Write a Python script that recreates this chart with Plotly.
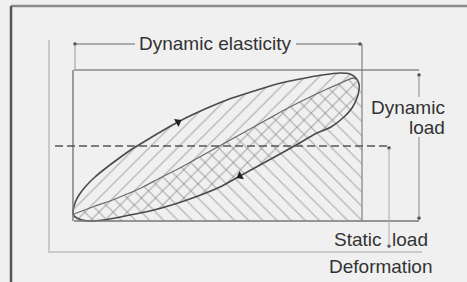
import plotly.graph_objects as go

# ---- data (deformation, load) in diagram units, origin at axes corner ----
loading_x = [24, 26, 30, 37, 46, 57, 69, 83, 98, 113, 129, 145, 163, 183, 205, 228, 251, 273, 291, 301, 307, 310, 310]
loading_y = [40, 49, 57, 66, 75, 84, 93, 103, 112, 121, 130, 138, 146, 154, 161, 168, 173, 177, 179, 178, 174, 168, 162]
unloading_x = [310, 308, 303, 295, 282, 266, 249, 231, 211, 191, 171, 149, 126, 101, 76, 54, 39, 30, 25, 24]
unloading_y = [162, 154, 144, 135, 125, 118, 108, 98, 87, 76, 65, 56, 48, 41, 36, 32, 31, 33, 36, 40]
inner_x = [25, 33, 46, 61, 78, 94, 111, 129, 147, 165, 183, 201, 219, 239, 259, 278, 294, 304, 309]
inner_y = [38, 41, 46, 51, 58, 65, 74, 83, 93, 103, 113, 123, 133, 144, 154, 163, 170, 174, 172]

defl_min, defl_max = 25, 313          # dynamic elasticity span
dyn_load_min, dyn_load_max = 31, 182  # dynamic load span
static_load = 106                     # static load level

labels = ["Dynamic elasticity", "Dynamic", "load", "Static  load", "Deformation"]

INK = "#333333"
FONT = dict(family="Liberation Sans, Arial, sans-serif", size=19, color=INK)

fig = go.Figure()

# region under the inner (unloading) curve -> "\" hatch
bx = inner_x + [defl_max, defl_max, defl_min, defl_min]
by = inner_y + [160, dyn_load_min, dyn_load_min, inner_y[0]]
fig.add_trace(go.Scatter(
    x=bx, y=by, mode="lines", fill="toself",
    line=dict(width=0, color="rgba(0,0,0,0)"),
    fillcolor="rgba(0,0,0,0)",
    fillpattern=dict(shape="\\", fgcolor="#7a7a7a", bgcolor="rgba(0,0,0,0)", size=10, solidity=0.13, fillmode="overlay"),
    hoverinfo="skip", showlegend=False))

# hysteresis loop -> "/" hatch
lx = loading_x + unloading_x[1:]
ly = loading_y + unloading_y[1:]
fig.add_trace(go.Scatter(
    x=lx, y=ly, mode="lines", fill="toself",
    line=dict(width=1.6, color="#4a4a4a", shape="spline", smoothing=0.6),
    fillcolor="rgba(0,0,0,0)",
    fillpattern=dict(shape="/", fgcolor="#7a7a7a", bgcolor="rgba(0,0,0,0)", size=10, solidity=0.13, fillmode="overlay"),
    hoverinfo="skip", showlegend=False))

# inner curve
fig.add_trace(go.Scatter(x=inner_x, y=inner_y, mode="lines",
                         line=dict(width=1.3, color="#6a6a6a", shape="spline", smoothing=0.6),
                         hoverinfo="skip", showlegend=False))

# direction arrows on the loop
fig.add_trace(go.Scatter(x=[loading_x[10]], y=[loading_y[10]], mode="markers",
                         marker=dict(symbol="triangle-right", size=8, color="#222", angle=-30),
                         hoverinfo="skip", showlegend=False))
fig.add_trace(go.Scatter(x=[unloading_x[9]], y=[unloading_y[9]], mode="markers",
                         marker=dict(symbol="triangle-left", size=8, color="#222", angle=-28),
                         hoverinfo="skip", showlegend=False))

# small end dots of dimension lines
fig.add_trace(go.Scatter(x=[370, 370, 340, 340, 26, 311], y=[177, 34, 104, 6, 208, 208], mode="markers",
                         marker=dict(symbol="circle", size=3.5, color="#444"),
                         hoverinfo="skip", showlegend=False))

shapes = []
def seg(x0, y0, x1, y1, color="#555", width=1.3, dash="solid"):
    shapes.append(dict(type="line", xref="x", yref="y", x0=x0, y0=y0, x1=x1, y1=y1,
                       line=dict(color=color, width=width, dash=dash)))

# outer frame
seg(-38, 246, 420, 246, color="#8a8a8a", width=2.5)
seg(-38, 246, -38, -32, color="#555", width=2.5)

# axes
seg(0, 212, 0, 0, color="#c9c9c9", width=2)
seg(-1, 0, 373, 0, color="#c9c9c9", width=2)

# rectangle
seg(defl_min, dyn_load_max, 370, dyn_load_max, color="#8a8a8a", width=1.6)
seg(defl_min, dyn_load_min, 370, dyn_load_min, color="#777", width=1.4)
seg(defl_min - 1, dyn_load_min, defl_min - 1, dyn_load_max, color="#777", width=1.4)
seg(defl_max, dyn_load_min, defl_max, 208, color="#888", width=1.3)

# dynamic elasticity dimension
seg(26, 208, 26, dyn_load_max, color="#999", width=1)
seg(26, 208, 86, 208, color="#666", width=1)
seg(247, 208, defl_max, 208, color="#666", width=1)

# dynamic load dimension
seg(370, 177, 370, 155, color="#888", width=1)
seg(370, 115, 370, 34, color="#888", width=1)

# static load
seg(6, static_load, 338, static_load, color="#555", width=1.6, dash="8px,4px")
seg(340, static_load - 2, 340, 6, color="#aaa", width=1)

fig.update_layout(shapes=shapes)

ann = [
    dict(text=labels[0], x=166, y=209, xanchor="center", yanchor="middle"),
    dict(text=labels[1], x=398, y=145, xanchor="right", yanchor="middle"),
    dict(text=labels[2], x=398, y=125, xanchor="right", yanchor="middle"),
    dict(text=labels[3], x=381, y=13, xanchor="right", yanchor="middle"),
    dict(text=labels[4], x=386, y=-14, xanchor="right", yanchor="middle"),
]
for a in ann:
    a.update(xref="x", yref="y", showarrow=False, font=FONT)
fig.update_layout(annotations=ann)

fig.update_layout(
    width=467, height=282,
    margin=dict(l=0, r=0, t=0, b=0),
    paper_bgcolor="#f0f0f0", plot_bgcolor="#f0f0f0",
    xaxis=dict(range=[-49, 418], visible=False, fixedrange=True),
    yaxis=dict(range=[-30, 252], visible=False, fixedrange=True),
    showlegend=False,
)

fig.write_html("out.html", config={"displayModeBar": False},
               post_script="document.body.style.margin='0';document.body.style.background='#f0f0f0';")
